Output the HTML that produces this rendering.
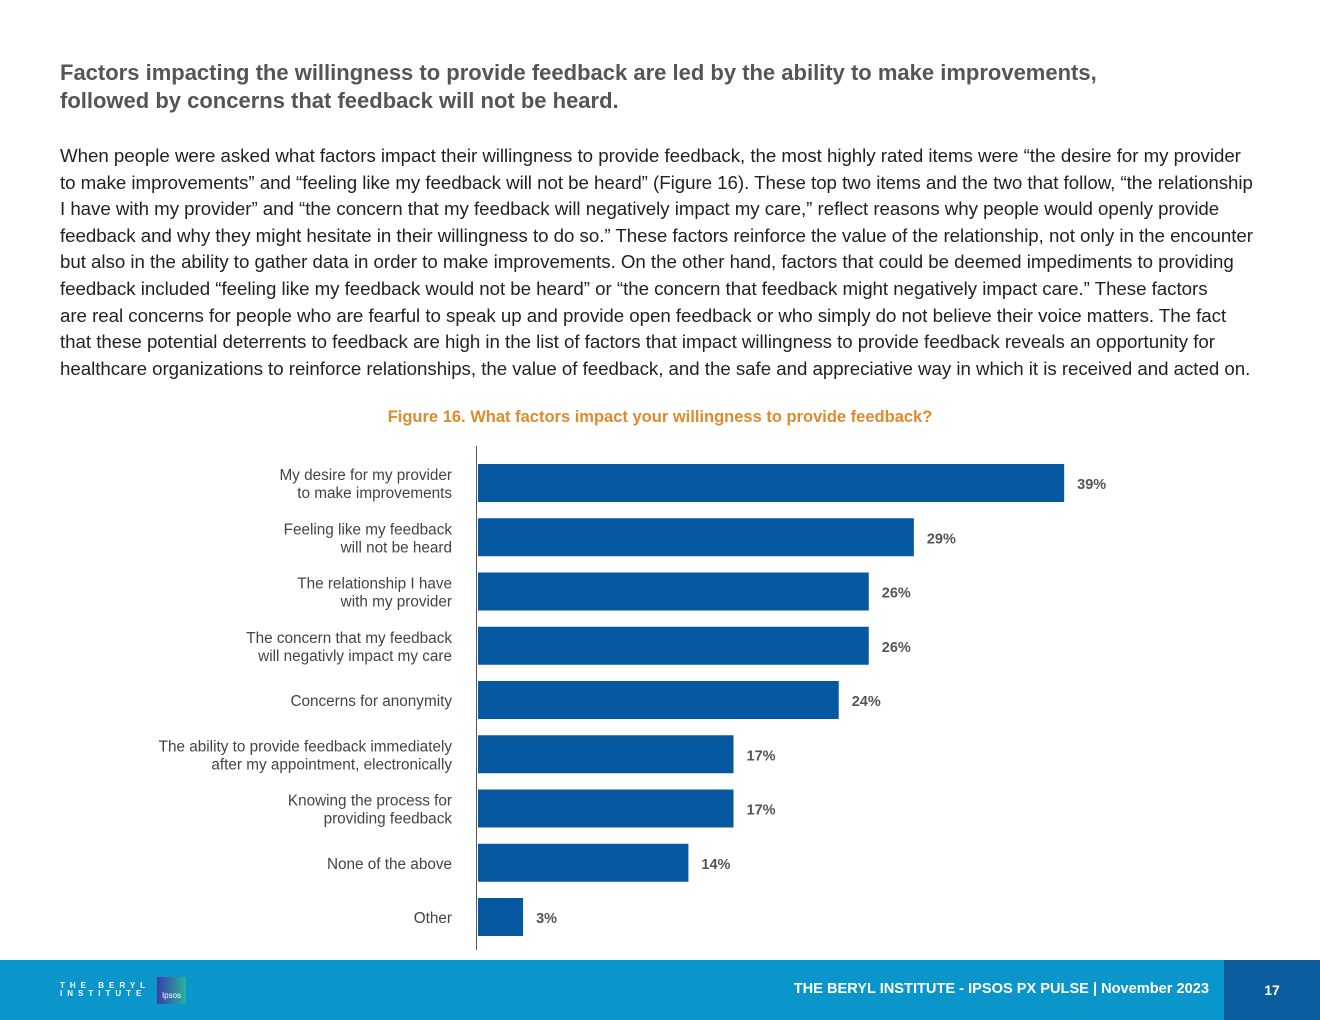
<!DOCTYPE html>
<html><head><meta charset="utf-8"><style>
body{margin:0;width:1320px;height:1020px;background:#fff;position:relative;overflow:hidden;font-family:"Liberation Sans",sans-serif;}
h1{position:absolute;left:60px;top:59px;margin:0;font-size:22px;line-height:28px;color:#555;font-weight:bold;width:1125px}
#body{position:absolute;left:60px;top:143px;font-size:18.7px;line-height:26.6px;color:#222;white-space:nowrap;letter-spacing:-0.03px}
#ftitle{position:absolute;left:0;width:1320px;top:408px;text-align:center;color:#e08a2c;font-weight:bold;font-size:16.5px}
#footer{position:absolute;left:0;top:960px;width:1320px;height:60px;background:#0a95cb}
#pg{position:absolute;left:1224px;top:0;width:96px;height:60px;background:#0b5d9e;color:#fff;font-weight:bold;font-size:14px;text-align:center;line-height:60px}
#ft{position:absolute;right:111px;top:21px;color:#fff;font-size:14.6px;font-weight:bold}
</style></head><body>
<h1>Factors impacting the willingness to provide feedback are led by the ability to make improvements, followed by concerns that feedback will not be heard.</h1>
<div id="body">When people were asked what factors impact their willingness to provide feedback, the most highly rated items were “the desire for my provider<br>to make improvements” and “feeling like my feedback will not be heard” (Figure 16). These top two items and the two that follow, “the relationship<br>I have with my provider” and “the concern that my feedback will negatively impact my care,” reflect reasons why people would openly provide<br>feedback and why they might hesitate in their willingness to do so.” These factors reinforce the value of the relationship, not only in the encounter<br>but also in the ability to gather data in order to make improvements. On the other hand, factors that could be deemed impediments to providing<br>feedback included “feeling like my feedback would not be heard” or “the concern that feedback might negatively impact care.” These factors<br>are real concerns for people who are fearful to speak up and provide open feedback or who simply do not believe their voice matters. The fact<br>that these potential deterrents to feedback are high in the list of factors that impact willingness to provide feedback reveals an opportunity for<br>healthcare organizations to reinforce relationships, the value of feedback, and the safe and appreciative way in which it is received and acted on.</div>
<div id="ftitle">Figure 16. What factors impact your willingness to provide feedback?</div>
<svg id="chart" width="1320" height="1020" style="position:absolute;left:0;top:0"></svg>
<div id="footer">
<div style="position:absolute;left:60px;top:22px;color:#fff;font-weight:bold;font-size:8px;letter-spacing:5px;line-height:8px">THE BERYL<br>INSTITUTE</div>
<div style="position:absolute;left:157px;top:17px;width:29px;height:27px;background:linear-gradient(90deg,#3a3fa8,#2ab39a);color:#fff;font-size:8px;text-align:center;line-height:38px">Ipsos</div>
<div id="ft">THE BERYL INSTITUTE - IPSOS PX PULSE | November 2023</div>
<div id="pg">17</div>
</div>
<script>
const categories=[["My desire for my provider","to make improvements"],["Feeling like my feedback","will not be heard"],["The relationship I have","with my provider"],["The concern that my feedback","will negativly impact my care"],["Concerns for anonymity"],["The ability to provide feedback immediately","after my appointment, electronically"],["Knowing the process for","providing feedback"],["None of the above"],["Other"]];
const values=[39,29,26,26,24,17,17,14,3];
const valueLabels=["39%","29%","26%","26%","24%","17%","17%","14%","3%"];
const svg=document.getElementById('chart');
const NS='http://www.w3.org/2000/svg';
const x0=478,scale=15.03,top0=464,step=54.25,bh=38;
const xs=v=>x0+v*scale;
const ys=i=>top0+i*step;
const ax=document.createElementNS(NS,'line');


ax.setAttribute('x1',476.5);ax.setAttribute('x2',476.5);ax.setAttribute('y1',446);ax.setAttribute('y2',950);ax.setAttribute('stroke','#555');ax.setAttribute('stroke-width','1');
svg.appendChild(ax);
values.forEach((v,i)=>{
 const r=document.createElementNS(NS,'rect');
 
 
 r.setAttribute('x',x0);r.setAttribute('y',ys(i));r.setAttribute('width',xs(v)-x0);r.setAttribute('height',bh);r.setAttribute('fill','#0659a1');
 svg.appendChild(r);
 const t=document.createElementNS(NS,'text');
 
 
 t.setAttribute('x',xs(v)+13);t.setAttribute('y',ys(i)+bh/2+6);t.setAttribute('font-size','14.5');t.setAttribute('font-weight','bold');t.setAttribute('fill','#555');t.setAttribute('font-family','Liberation Sans, sans-serif');
 t.textContent=valueLabels[i];svg.appendChild(t);
 const c=categories[i];
 const lt=document.createElementNS(NS,'text');
 
 
 lt.setAttribute('text-anchor','end');lt.setAttribute('font-size','15.3');lt.setAttribute('fill','#444');lt.setAttribute('font-family','Liberation Sans, sans-serif');
 const cy=ys(i)+bh/2;
 c.forEach((line,k)=>{const ts=document.createElementNS(NS,'tspan');ts.setAttribute('x',452);ts.setAttribute('y',cy+6+(k-(c.length-1)/2)*18);ts.textContent=line;lt.appendChild(ts);});
 svg.appendChild(lt);
});
</script>
</body></html>
